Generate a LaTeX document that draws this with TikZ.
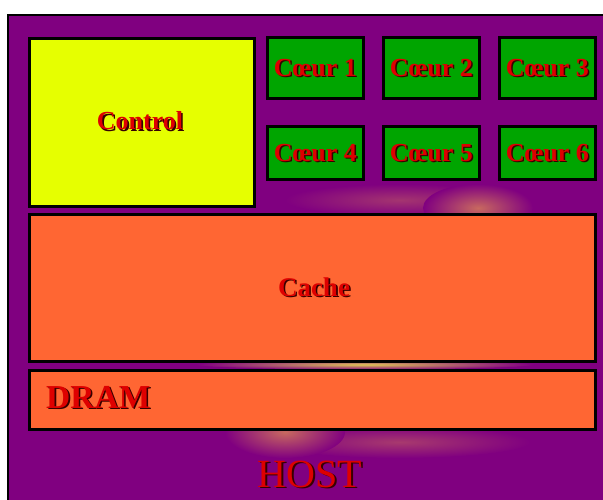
\documentclass[tikz,border=0pt]{standalone}
\usepackage{fontspec}
\setmainfont{Liberation Serif}
\definecolor{hostpurple}{RGB}{128,0,128}
\definecolor{ctrlyellow}{RGB}{230,255,0}
\definecolor{coregreen}{RGB}{0,165,0}
\definecolor{memorange}{RGB}{255,102,51}
\definecolor{labelred}{RGB}{222,0,0}
\definecolor{labelshadow}{RGB}{55,0,0}
\definecolor{glowpink}{RGB}{200,105,95}
\definecolor{glowyellow}{RGB}{225,200,85}

\newcommand\shadowlabel[4]{% name, position, style, text
  \node[#3, text=labelshadow, xshift=1.6pt, yshift=-1.6pt] (#1-s) at (#2) {#4};
  \node[#3, text=labelred] (#1) at (#2) {#4};}

\begin{document}
\begin{tikzpicture}[x=1pt, y=-1pt,
    unit/.style={draw=black, line width=2.6pt, inner sep=0pt, anchor=north west},
    corebox/.style={unit, fill=coregreen, minimum width=96pt},
    corefont/.style={inner sep=0pt, font=\fontsize{26}{30}\selectfont\bfseries},
    bigfont/.style={inner sep=0pt, font=\fontsize{27}{31}\selectfont\bfseries},
    dramfont/.style={inner sep=0pt, anchor=west, font=\fontsize{33.5}{38}\selectfont\bfseries},
    hostfont/.style={inner sep=0pt, font=\fontsize{40}{44}\selectfont}]
  \clip (0,0) rectangle (603,499);
  \fill[white] (0,0) rectangle (603,499);

  % host package
  \draw[fill=hostpurple, line width=2.4pt] (8,15) rectangle (630,530);

  % soft glows on the package surface
  \shade[inner color=glowpink!55!hostpurple, outer color=hostpurple] (400,442) ellipse [x radius=130pt, y radius=16pt];
  \shade[inner color=glowpink, outer color=hostpurple] (285,432) ellipse [x radius=60pt, y radius=26pt];
  \shade[inner color=glowpink!50!hostpurple, outer color=hostpurple] (400,200) ellipse [x radius=115pt, y radius=16pt];
  \shade[inner color=glowpink, outer color=hostpurple] (478,208) ellipse [x radius=55pt, y radius=24pt];
  \shade[inner color=glowyellow, outer color=hostpurple] (365,364.5) ellipse [x radius=170pt, y radius=5pt];

  % blocks
  \node[unit, fill=ctrlyellow, minimum width=225pt, minimum height=168pt] (ctrl) at (28,37) {};
  \node[corebox, minimum height=61pt] (c1) at (266,36) {};
  \node[corebox, minimum height=61pt] (c2) at (382,36) {};
  \node[corebox, minimum height=61pt] (c3) at (498,36) {};
  \node[corebox, minimum height=53pt] (c4) at (266,125) {};
  \node[corebox, minimum height=53pt] (c5) at (382,125) {};
  \node[corebox, minimum height=53pt] (c6) at (498,125) {};
  \node[unit, fill=memorange, minimum width=566pt, minimum height=147pt] (cache) at (28,213) {};
  \node[unit, fill=memorange, minimum width=566pt, minimum height=59pt] (dram) at (28,369) {};

  % labels
  \shadowlabel{ctrl-t}{140,121}{corefont}{Control}
  \shadowlabel{c1-t}{c1.center}{corefont}{Cœur 1}
  \shadowlabel{c2-t}{c2.center}{corefont}{Cœur 2}
  \shadowlabel{c3-t}{c3.center}{corefont}{Cœur 3}
  \shadowlabel{c4-t}{c4.center}{corefont}{Cœur 4}
  \shadowlabel{c5-t}{c5.center}{corefont}{Cœur 5}
  \shadowlabel{c6-t}{c6.center}{corefont}{Cœur 6}
  \shadowlabel{cache-t}{314,287}{bigfont}{Cache}
  \shadowlabel{dram-t}{46,397}{dramfont}{DRAM}
  \shadowlabel{host-t}{310,474}{hostfont}{HOST}
\end{tikzpicture}
\end{document}
